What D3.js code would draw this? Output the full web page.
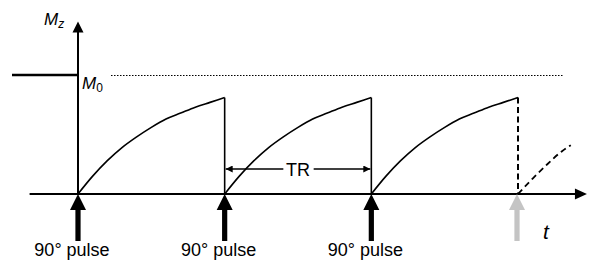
<!DOCTYPE html>
<html>
<head>
<meta charset="utf-8">
<script src="https://cdn.jsdelivr.net/npm/d3@7"></script>
<style>
  html, body { margin: 0; padding: 0; background: #fff; }
  svg { display: block; font-family: "Liberation Sans", Arial, sans-serif; }
</style>
</head>
<body>
<svg id="chart" width="589" height="261"></svg>
<script>
// ---- data (time in units of TR, Mz in units of M0) ----
const pulseTimes = [0, 1, 2, 3];
const pulseLabels = ["90° pulse", "90° pulse", "90° pulse", ""];
const pulseActive = [true, true, true, false];
const recoveryT  = [0, 0.1, 0.2, 0.3, 0.4, 0.5, 0.6, 0.7, 0.8, 0.9, 1.0];
const recoveryMz = [0, 0.15, 0.28, 0.39, 0.48, 0.56, 0.63, 0.68, 0.73, 0.77, 0.81];
const partialT  = [0, 0.1, 0.2, 0.3, 0.36];
const partialMz = [0, 0.13, 0.25, 0.36, 0.41];
const equilibrium = 1;          // M0 level
const preStart = -0.45;         // thick M0 line start (before first pulse)
const dottedRange = [0.225, 3.31];
const axisRangeX = [-0.33, 3.47];
const axisTopY = 1.45;

const svg = d3.select("#chart");
const x = d3.scaleLinear().domain([0, 3]).range([78, 518]);
const y = d3.scaleLinear().domain([0, 1]).range([194, 75]);

const defs = svg.append("defs");
defs.append("marker").attr("id", "ah").attr("viewBox", "0 0 10 10")
  .attr("refX", 10).attr("refY", 5).attr("markerWidth", 10).attr("markerHeight", 7)
  .attr("markerUnits", "userSpaceOnUse").attr("orient", "auto-start-reverse")
  .append("path").attr("d", "M0,0L10,5L0,10Z").attr("fill", "#000");
const blur = defs.append("filter").attr("id", "soft").attr("x", "-50%").attr("width", "200%");
blur.append("feGaussianBlur").attr("stdDeviation", 0.7);

// M0 dotted level
svg.append("line")
  .attr("x1", x(dottedRange[0])).attr("x2", x(dottedRange[1]))
  .attr("y1", y(equilibrium) + 0.5).attr("y2", y(equilibrium) + 0.5)
  .attr("stroke", "#000").attr("stroke-width", 1.2).attr("stroke-dasharray", "1.5,1.5");

// thick pre-equilibrium line
svg.append("line")
  .attr("x1", x(preStart)).attr("x2", x(0))
  .attr("y1", y(equilibrium)).attr("y2", y(equilibrium))
  .attr("stroke", "#000").attr("stroke-width", 2.5);

// x axis
svg.append("line")
  .attr("x1", x(axisRangeX[0])).attr("x2", x(axisRangeX[1]) - 10)
  .attr("y1", y(0)).attr("y2", y(0)).attr("stroke", "#000").attr("stroke-width", 2);
svg.append("path")
  .attr("d", `M${x(axisRangeX[1])},${y(0)}L${x(axisRangeX[1]) - 12},${y(0) - 5.5}L${x(axisRangeX[1]) - 12},${y(0) + 5.5}Z`)
  .attr("fill", "#000");

// y axis
svg.append("line")
  .attr("x1", x(0)).attr("x2", x(0))
  .attr("y1", y(0)).attr("y2", y(axisTopY) + 10)
  .attr("stroke", "#000").attr("stroke-width", 2);
svg.append("path")
  .attr("d", `M${x(0)},${y(axisTopY)}L${x(0) - 5.5},${y(axisTopY) + 11}L${x(0) + 5.5},${y(axisTopY) + 11}Z`)
  .attr("fill", "#000");

// recovery curves
const line = d3.line().curve(d3.curveMonotoneX);
pulseTimes.slice(0, 3).forEach(p => {
  const pts = recoveryT.map((t, i) => [x(p + t), y(recoveryMz[i])]);
  svg.append("path").attr("d", line(pts)).attr("fill", "none")
    .attr("stroke", "#000").attr("stroke-width", 1.6);
  const end = pts[pts.length - 1];
  const last = p === 2;
  svg.append("line").attr("x1", end[0]).attr("x2", end[0])
    .attr("y1", end[1]).attr("y2", y(0))
    .attr("stroke", "#000").attr("stroke-width", last ? 2 : 1.6)
    .attr("stroke-dasharray", last ? "6,3.5" : null);
});
// partial (dashed) recovery after the last pulse
svg.append("path")
  .attr("d", line(partialT.map((t, i) => [x(3 + t), y(partialMz[i])])))
  .attr("fill", "none").attr("stroke", "#000").attr("stroke-width", 1.8)
  .attr("stroke-dasharray", "6,4");

// pulse arrows
pulseTimes.forEach((p, i) => {
  const cx = x(p) + (pulseActive[i] ? 0 : -1);
  const tipY = y(0);
  const d = `M${cx},${tipY}L${cx + 8},${tipY + 16}L${cx + 2.6},${tipY + 16}L${cx + 2.6},${tipY + 47}` +
            `L${cx - 2.6},${tipY + 47}L${cx - 2.6},${tipY + 16}L${cx - 8},${tipY + 16}Z`;
  svg.append("path").attr("d", d)
    .attr("fill", pulseActive[i] ? "#000" : "#c4c4c4")
    .attr("filter", pulseActive[i] ? null : "url(#soft)");
  if (pulseLabels[i]) {
    svg.append("text").attr("x", cx - 6).attr("y", 256)
      .attr("text-anchor", "middle").attr("font-size", 18).text(pulseLabels[i]);
  }
});

// TR dimension
const trY = 169;
svg.append("text").attr("x", (x(1) + x(2)) / 2).attr("y", trY + 6.5)
  .attr("text-anchor", "middle").attr("font-size", 18).text("TR");
svg.append("line").attr("x1", x(1) + 1).attr("x2", x(1.4)).attr("y1", trY).attr("y2", trY)
  .attr("stroke", "#000").attr("stroke-width", 1.5).attr("marker-start", "url(#ah)");
svg.append("line").attr("x1", x(1.6) + 1).attr("x2", x(2) - 1).attr("y1", trY).attr("y2", trY)
  .attr("stroke", "#000").attr("stroke-width", 1.5).attr("marker-end", "url(#ah)");

// labels
const mz = svg.append("text").attr("x", 44).attr("y", 25).attr("font-size", 17).attr("font-style", "italic");
mz.append("tspan").text("M");
mz.append("tspan").attr("font-size", 12).attr("dy", 3).text("z");

const m0 = svg.append("text").attr("x", 82).attr("y", 89).attr("font-size", 17).attr("font-style", "italic");
m0.append("tspan").text("M");
m0.append("tspan").attr("font-size", 12).attr("dy", 3).attr("font-style", "normal").text("0");

svg.append("text").attr("x", 543).attr("y", 239).attr("font-size", 21)
  .attr("font-style", "italic").text("t");
</script>
</body>
</html>
